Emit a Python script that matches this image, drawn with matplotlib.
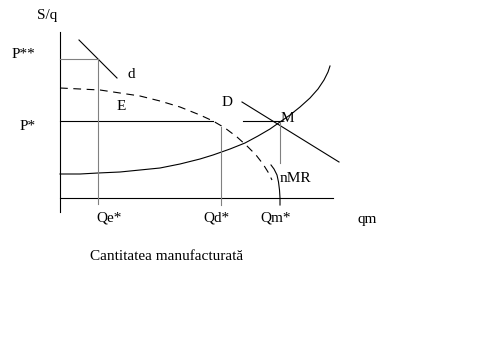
import matplotlib.pyplot as plt

# diagram, in pixel units of the 484x338 image
axis_y_x = [60, 60]
axis_y_y = [32, 212]
axis_x_x = [60, 333]
axis_x_y = [198, 198]

d_line_x = [79, 117]
d_line_y = [40, 78]

D_line_x = [242, 339]
D_line_y = [102, 162]

pstar_left_x = [60, 213]
pstar_right_x = [243, 282]
pstar_y = 121

curve_x = [60, 80, 98, 120, 140, 160, 180, 200, 213, 230, 245, 258, 270,
           280, 290, 300, 310, 318, 324, 328, 330]
curve_y = [174, 174, 173, 172, 170, 168, 164, 159, 155, 149, 143, 136, 129,
           122, 115, 107, 98, 89, 80, 72, 66]

dash_x = [60, 80, 100, 120, 140, 160, 180, 200, 213, 225, 237, 247, 256,
          263, 268, 272]
dash_y = [88, 89, 90, 93, 96, 101, 107, 115, 121, 128, 137, 146, 155,
          164, 172, 180]

nmr_x = [271, 274, 277, 278.5, 279.5, 280, 280]
nmr_y = [165, 169, 175, 182, 190, 198, 205]

gray_pp_x = [60, 98]
gray_pp_y = [59, 59]
gray_qe = (98, 59, 204)
gray_qd = (221, 127, 205)
gray_qm = (280, 122, 163)

labels = [
    ("S/q", 37, 15),
    ("P**", 12, 54),
    ("d", 128, 74),
    ("E", 117, 106),
    ("D", 222, 102),
    ("P*", 20, 126),
    ("M", 281, 118),
    ("nMR", 280, 178),
    ("Qe*", 96, 218),
    ("Qd*", 203, 218),
    ("Qm*", 260, 218),
    ("qm", 357, 220),
    ("Cantitatea manufacturată", 90, 256),
]

fig = plt.figure(figsize=(4.84, 3.38), dpi=100)
ax = fig.add_axes([0, 0, 1, 1])
ax.set_xlim(0, 484)
ax.set_ylim(338, 0)
ax.axis("off")

lw = 0.8
ax.plot(axis_y_x, axis_y_y, color="black", lw=lw)
ax.plot(axis_x_x, axis_x_y, color="black", lw=lw)
ax.plot(d_line_x, d_line_y, color="black", lw=lw)
ax.plot(D_line_x, D_line_y, color="black", lw=lw)
ax.plot(pstar_left_x, [pstar_y] * 2, color="black", lw=lw)
ax.plot(pstar_right_x, [pstar_y] * 2, color="black", lw=lw)
ax.plot(curve_x, curve_y, color="black", lw=lw)
ax.plot(dash_x, dash_y, color="black", lw=lw, linestyle=(0, (7, 5)))
ax.plot(nmr_x, nmr_y, color="black", lw=lw)

gray = "#808080"
ax.plot(gray_pp_x, gray_pp_y, color=gray, lw=lw)
for x, y0, y1 in [gray_qe, gray_qd, gray_qm]:
    ax.plot([x, x], [y0, y1], color=gray, lw=lw)

for text, x, y in labels:
    ax.text(x, y, text, fontsize=11, family="Liberation Serif",
            ha="left", va="center")

fig.savefig("out.png", dpi=100)
